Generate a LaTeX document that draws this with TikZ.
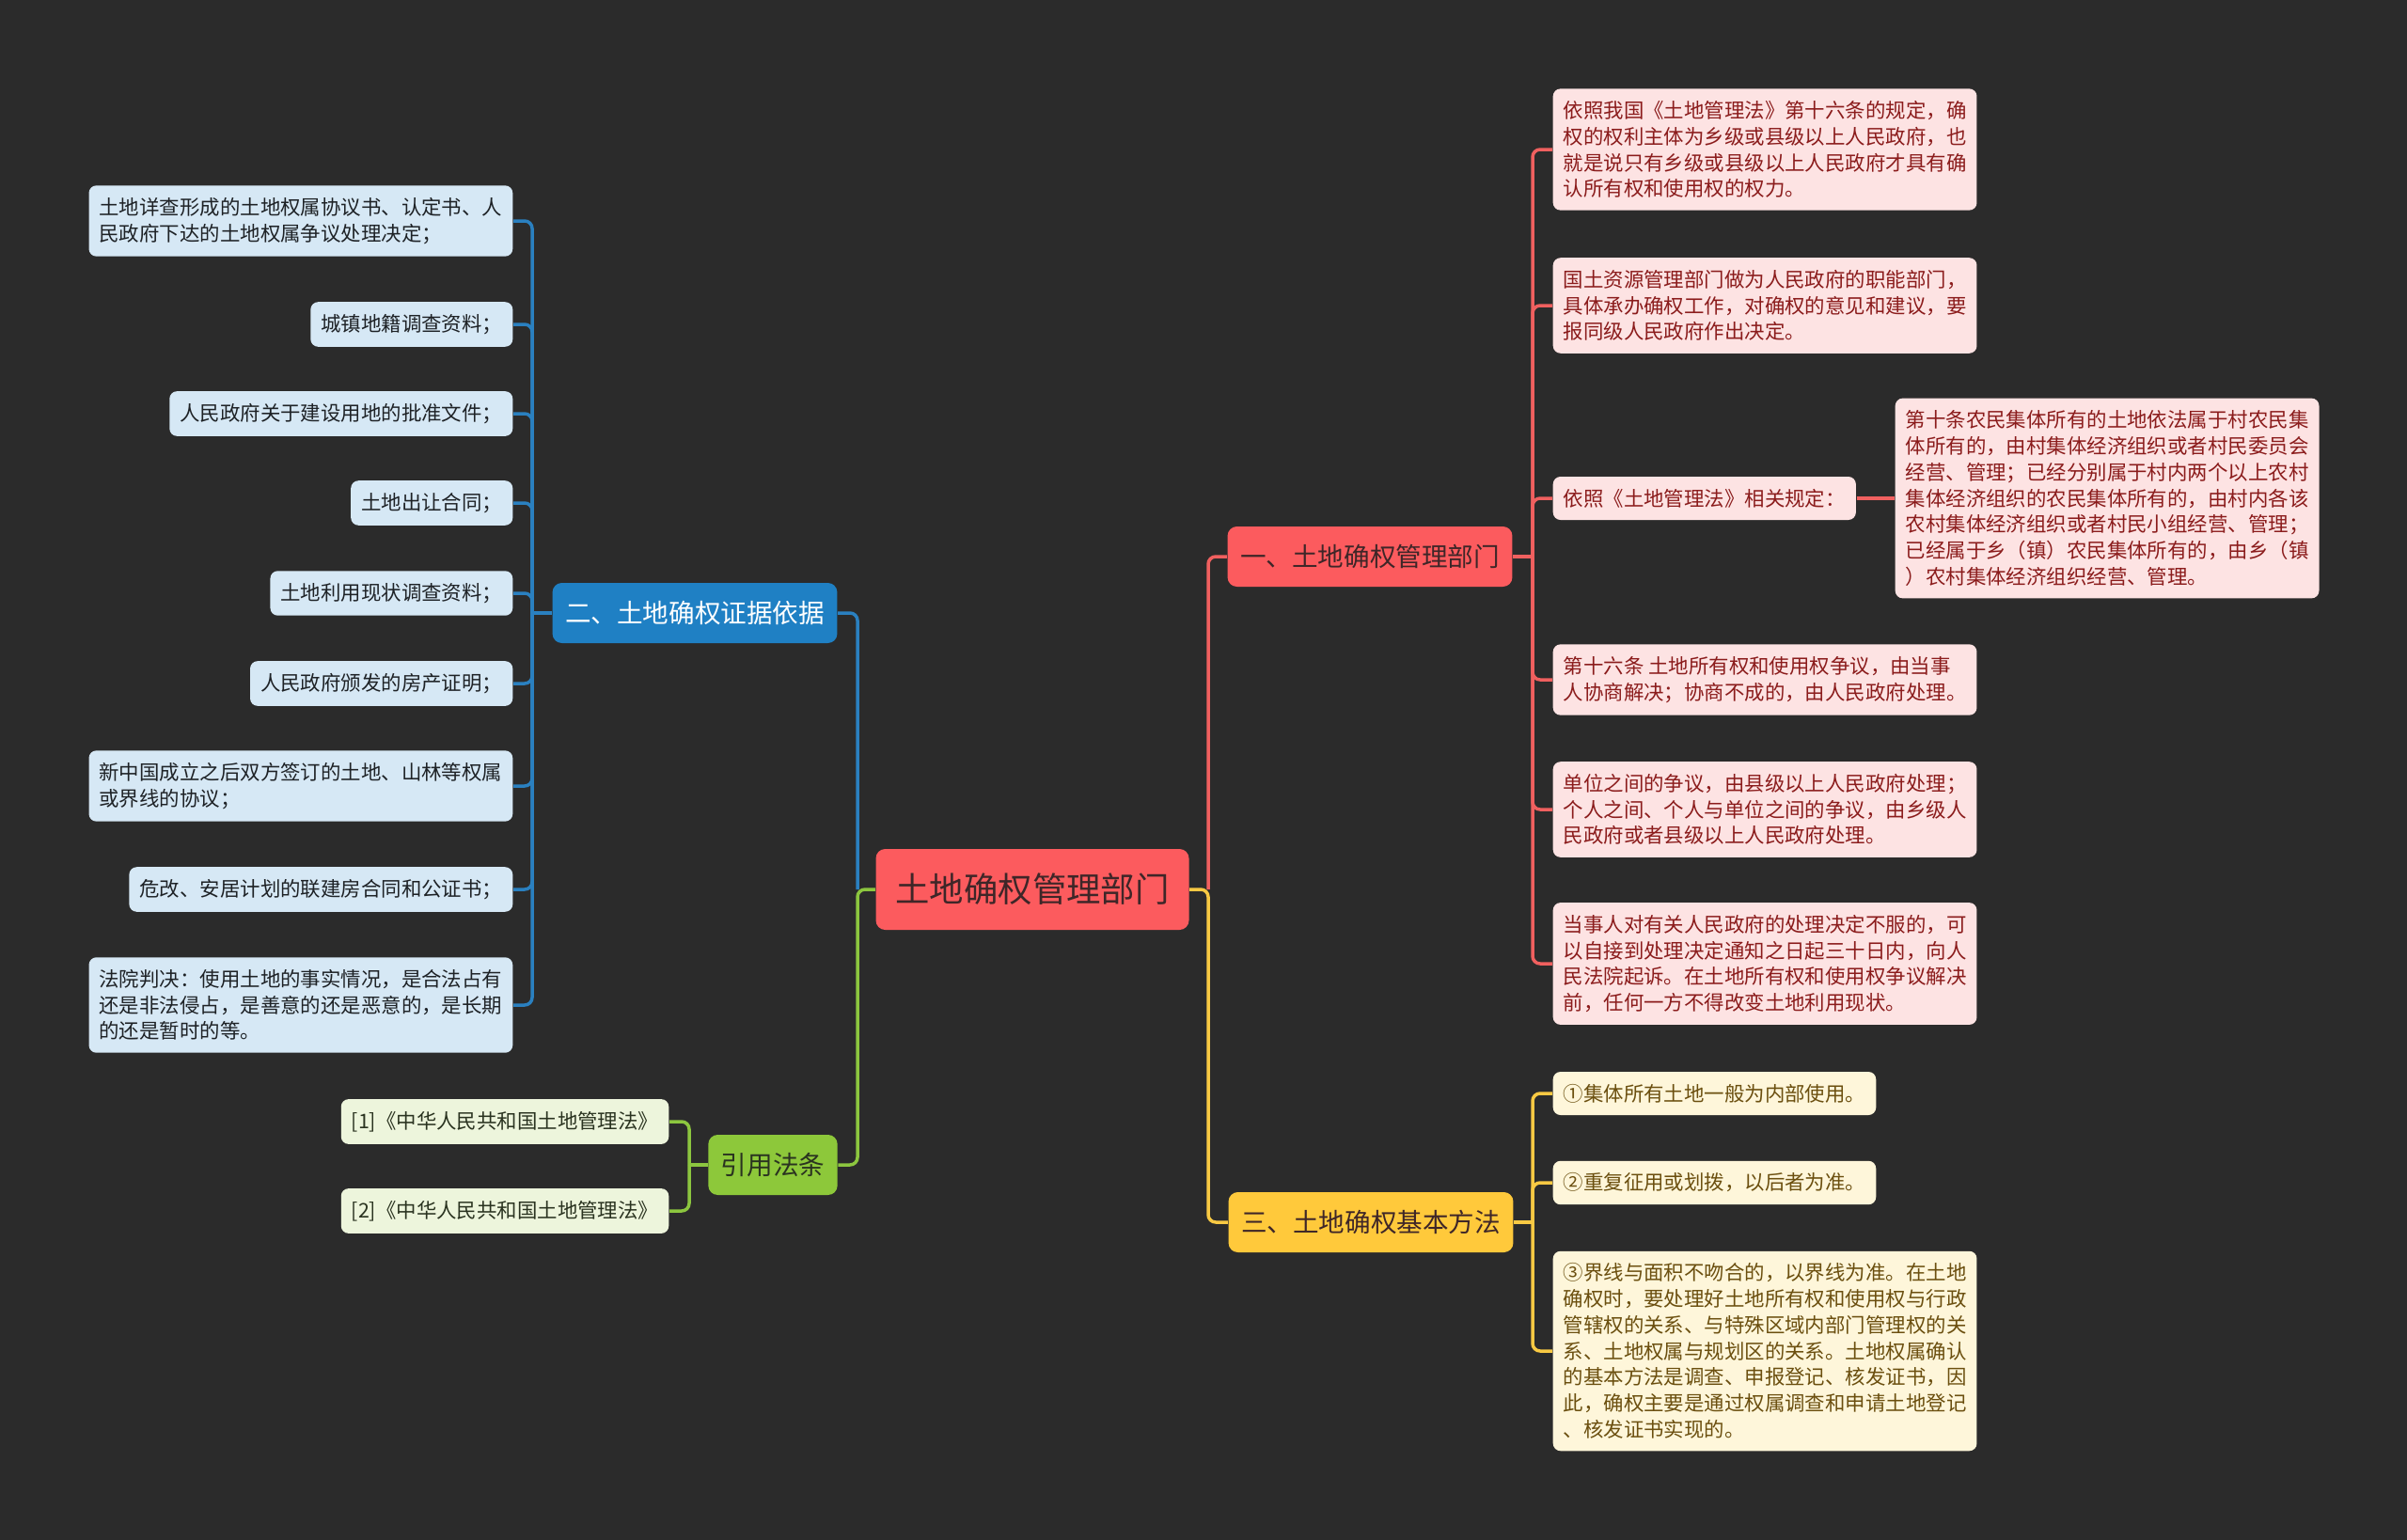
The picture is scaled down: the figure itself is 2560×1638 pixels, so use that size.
\documentclass[tikz,border=0pt]{standalone}
\usepackage{fontspec}
\setmainfont{Noto Sans CJK SC}
\usetikzlibrary{positioning}

\definecolor{bgdark}{HTML}{2B2B2B}
\definecolor{mred}{HTML}{FC5B5E}
\definecolor{mblue}{HTML}{1F80C4}
\definecolor{myellow}{HTML}{FFC93B}
\definecolor{mgreen}{HTML}{8DC83A}
\definecolor{wred}{HTML}{F0605F}
\definecolor{wblue}{HTML}{2A80C0}
\definecolor{wyellow}{HTML}{F8C943}
\definecolor{wgreen}{HTML}{8CC63F}
\definecolor{leafred}{HTML}{FDE3E3}
\definecolor{leafblue}{HTML}{D6E8F5}
\definecolor{leafyellow}{HTML}{FEF6DA}
\definecolor{leafgreen}{HTML}{EDF5DC}
\definecolor{inkred}{HTML}{8B1C1C}
\definecolor{inkblue}{HTML}{1E2226}
\definecolor{inkyellow}{HTML}{6B4F0F}
\definecolor{inkgreen}{HTML}{2A3320}
\definecolor{inkdark}{HTML}{3E2628}

\begin{document}
\begin{tikzpicture}[
    x=0.1mm, y=-0.1mm,
    rootbox/.style={rectangle, rounded corners=1mm, fill=mred, text=inkdark, inner xsep=2.1mm, minimum height=8.6mm, font=\fontsize{10.35pt}{12pt}\selectfont},
    branch/.style={rectangle, rounded corners=1mm, inner xsep=1.35mm, minimum height=6.4mm, font=\fontsize{7.85pt}{9pt}\selectfont},
    leaf/.style={rectangle, rounded corners=0.8mm, align=left, inner xsep=1.1mm, inner ysep=1.3mm, font=\fontsize{6.1pt}{7.9pt}\selectfont},
    redleaf/.style={leaf, fill=leafred, text=inkred, anchor=west},
    blueleaf/.style={leaf, fill=leafblue, text=inkblue, anchor=east},
    yellowleaf/.style={leaf, fill=leafyellow, text=inkyellow, anchor=west},
    greenleaf/.style={leaf, fill=leafgreen, text=inkgreen, anchor=east},
    wire/.style={line width=0.35mm, rounded corners=0.8mm}
]
    \fill[bgdark] (0,0) rectangle (2560,1638);

    % centre and main branches
    \node (root) [rootbox] at (1098,946) {土地确权管理部门};
    \node (b1) [branch, fill=mred, text=inkdark] at (1457,592) {一、土地确权管理部门};
    \node (b2) [branch, fill=mblue, text=white] at (739,652) {二、土地确权证据依据};
    \node (b3) [branch, fill=myellow, text=inkdark] at (1458,1300) {三、土地确权基本方法};
    \node (b4) [branch, fill=mgreen, text=inkgreen] at (822,1239) {引用法条};

    % 一
    \node (r1) [redleaf] at (1651,159) {依照我国《土地管理法》第十六条的规定，确\\权的权利主体为乡级或县级以上人民政府，也\\就是说只有乡级或县级以上人民政府才具有确\\认所有权和使用权的权力。};
    \node (r2) [redleaf] at (1651,325) {国土资源管理部门做为人民政府的职能部门，\\具体承办确权工作，对确权的意见和建议，要\\报同级人民政府作出决定。};
    \node (r3) [redleaf] at (1651,530) {依照《土地管理法》相关规定：};
    \node (r3a) [redleaf] at (2015,530) {第十条农民集体所有的土地依法属于村农民集\\体所有的，由村集体经济组织或者村民委员会\\经营、管理；已经分别属于村内两个以上农村\\集体经济组织的农民集体所有的，由村内各该\\农村集体经济组织或者村民小组经营、管理；\\已经属于乡（镇）农民集体所有的，由乡（镇\\）农村集体经济组织经营、管理。};
    \node (r4) [redleaf] at (1651,723) {第十六条 土地所有权和使用权争议，由当事\\人协商解决；协商不成的，由人民政府处理。};
    \node (r5) [redleaf] at (1651,861) {单位之间的争议，由县级以上人民政府处理；\\个人之间、个人与单位之间的争议，由乡级人\\民政府或者县级以上人民政府处理。};
    \node (r6) [redleaf] at (1651,1025) {当事人对有关人民政府的处理决定不服的，可\\以自接到处理决定通知之日起三十日内，向人\\民法院起诉。在土地所有权和使用权争议解决\\前，任何一方不得改变土地利用现状。};

    % 二
    \node (l1) [blueleaf] at (546,235) {土地详查形成的土地权属协议书、认定书、人\\民政府下达的土地权属争议处理决定；};
    \node (l2) [blueleaf] at (546,345) {城镇地籍调查资料；};
    \node (l3) [blueleaf] at (546,440) {人民政府关于建设用地的批准文件；};
    \node (l4) [blueleaf] at (546,535) {土地出让合同；};
    \node (l5) [blueleaf] at (546,631) {土地利用现状调查资料；};
    \node (l6) [blueleaf] at (546,727) {人民政府颁发的房产证明；};
    \node (l7) [blueleaf] at (546,836) {新中国成立之后双方签订的土地、山林等权属\\或界线的协议；};
    \node (l8) [blueleaf] at (546,946) {危改、安居计划的联建房合同和公证书；};
    \node (l9) [blueleaf] at (546,1069) {法院判决：使用土地的事实情况，是合法占有\\还是非法侵占，是善意的还是恶意的，是长期\\的还是暂时的等。};

    % 三
    \node (y1) [yellowleaf] at (1651,1163) {①集体所有土地一般为内部使用。};
    \node (y2) [yellowleaf] at (1651,1258) {②重复征用或划拨，以后者为准。};
    \node (y3) [yellowleaf] at (1651,1437) {③界线与面积不吻合的，以界线为准。在土地\\确权时，要处理好土地所有权和使用权与行政\\管辖权的关系、与特殊区域内部门管理权的关\\系、土地权属与规划区的关系。土地权属确认\\的基本方法是调查、申报登记、核发证书，因\\此，确权主要是通过权属调查和申请土地登记\\、核发证书实现的。};

    % 引用法条
    \node (g1) [greenleaf] at (712,1193) {[1]《中华人民共和国土地管理法》};
    \node (g2) [greenleaf] at (712,1288) {[2]《中华人民共和国土地管理法》};

    % junctions
    \coordinate (jl) at (912,946);
    \coordinate (jr) at (1285,946);
    \coordinate (t1) at (1630,592);
    \coordinate (t2) at (566,652);
    \coordinate (t3) at (1630,1300);
    \coordinate (t4) at (733,1239);

    \draw [wire, wblue] (jl) |- (b2.east);
    \draw [wire, wgreen] (root.west) -- (jl) |- (b4.east);
    \draw [wire, wred] (jr) |- (b1.west);
    \draw [wire, wyellow] (root.east) -- (jr) |- (b3.west);

    \draw [wire, wred] (b1.east) -- (t1);
    \draw [wire, wred] (t1) |- (r1.west);
    \draw [wire, wred] (t1) |- (r2.west);
    \draw [wire, wred] (t1) |- (r3.west);
    \draw [wire, wred] (t1) |- (r4.west);
    \draw [wire, wred] (t1) |- (r5.west);
    \draw [wire, wred] (t1) |- (r6.west);
    \draw [wire, wred] (r3.east) -- (r3a.west);

    \draw [wire, wblue] (b2.west) -- (t2);
    \draw [wire, wblue] (t2) |- (l1.east);
    \draw [wire, wblue] (t2) |- (l2.east);
    \draw [wire, wblue] (t2) |- (l3.east);
    \draw [wire, wblue] (t2) |- (l4.east);
    \draw [wire, wblue] (t2) |- (l5.east);
    \draw [wire, wblue] (t2) |- (l6.east);
    \draw [wire, wblue] (t2) |- (l7.east);
    \draw [wire, wblue] (t2) |- (l8.east);
    \draw [wire, wblue] (t2) |- (l9.east);

    \draw [wire, wyellow] (b3.east) -- (t3);
    \draw [wire, wyellow] (t3) |- (y1.west);
    \draw [wire, wyellow] (t3) |- (y2.west);
    \draw [wire, wyellow] (t3) |- (y3.west);

    \draw [wire, wgreen] (b4.west) -- (t4);
    \draw [wire, wgreen] (t4) |- (g1.east);
    \draw [wire, wgreen] (t4) |- (g2.east);
\end{tikzpicture}
\end{document}
